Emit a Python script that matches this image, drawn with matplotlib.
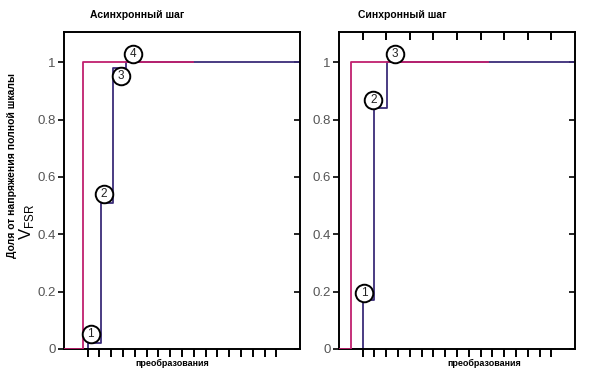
import matplotlib
matplotlib.use("Agg")
import matplotlib.pyplot as plt

plt.rcParams['font.family'] = ['Liberation Sans', 'DejaVu Sans']

# Data
async_dark_x = [0, 2.0, 3.1, 4.15, 5.25, 20]
async_dark_y = [0, 0.02, 0.51, 0.98, 1.0, 1.0]
async_mag_x = [0, 1.6, 10.9]
async_mag_y = [0, 1.0, 1.0]
async_lbl_x = [2.26, 3.39, 4.8, 5.82]
async_lbl_y = [0.051, 0.54, 0.95, 1.03]
async_lbl = ['1', '2', '3', '4']

sync_dark_x = [0, 2.0, 2.97, 4.04, 20]
sync_dark_y = [0, 0.17, 0.84, 1.0, 1.0]
sync_mag_x = [0, 1.0, 12.6]
sync_mag_y = [0, 1.0, 1.0]
sync_lbl_x = [2.12, 2.9, 4.75]
sync_lbl_y = [0.195, 0.867, 1.027]
sync_lbl = ['1', '2', '3']

yticks = [0, 0.2, 0.4, 0.6, 0.8, 1.0]
ytick_labels = ['0', '0.2', '0.4', '0.6', '0.8', '1']
xticks = list(range(2, 19))
top_xticks = list(range(2, 19, 2))

MAG = '#c0206e'
DARK = '#3a2c78'

fig = plt.figure(figsize=(6.0, 3.82), dpi=100)
fig.patch.set_facecolor('white')

ax1 = fig.add_axes([0.1067, 0.0864, 0.3933, 0.8298])
ax2 = fig.add_axes([0.565, 0.0864, 0.3933, 0.8298])


def setup(ax, top_ticks):
    ax.set_xlim(0, 20)
    ax.set_ylim(0, 1.105)
    for s in ax.spines.values():
        s.set_linewidth(1.4)
        s.set_color('black')
    ax.set_yticks(yticks)
    ax.set_yticklabels(ytick_labels)
    ax.tick_params(axis='y', which='both', direction='out', length=4, width=1.2,
                   labelsize=9.5, labelcolor='#555555', pad=2, right=False)
    ax.set_xticks(xticks)
    ax.set_xticklabels([])
    ax.tick_params(axis='x', which='both', direction='out', length=6, width=1.4,
                   top=False)
    ay = ax.secondary_yaxis('right')
    ay.set_yticks(yticks)
    ay.set_yticklabels([])
    ay.tick_params(direction='in', length=4, width=1.2)
    ay.spines['right'].set_visible(False)
    if top_ticks:
        axt = ax.secondary_xaxis('top')
        axt.set_xticks(top_xticks)
        axt.set_xticklabels([])
        axt.tick_params(direction='in', length=6, width=1.4)
        axt.spines['top'].set_visible(False)


def draw(ax, dx, dy, mx, my, lx, ly, lbls):
    ax.step(dx, dy, where='post', color=DARK, lw=1.3, zorder=2, clip_on=True)
    ax.step(mx, my, where='post', color=MAG, lw=1.3, zorder=3, clip_on=True)
    ax.scatter(lx, ly, s=160, facecolor='white', edgecolor='black',
               linewidth=1.4, zorder=4)
    for x, y, t in zip(lx, ly, lbls):
        ax.text(x, y, t, ha='center', va='center', fontsize=8.5, zorder=5,
                color='#222222')


setup(ax1, False)
setup(ax2, True)
draw(ax1, async_dark_x, async_dark_y, async_mag_x, async_mag_y,
     async_lbl_x, async_lbl_y, async_lbl)
draw(ax2, sync_dark_x, sync_dark_y, sync_mag_x, sync_mag_y,
     sync_lbl_x, sync_lbl_y, sync_lbl)

fig.text(137.5 / 600, 1 - 15 / 382, 'Асинхронный шаг', ha='center', va='center',
         fontsize=7.5, fontweight='bold')
fig.text(402.5 / 600, 1 - 15 / 382, 'Синхронный шаг', ha='center', va='center',
         fontsize=7.5, fontweight='bold')
fig.text(172 / 600, 1 - 363 / 382, 'преобразования', ha='center', va='center',
         fontsize=6.5, fontweight='bold')
fig.text(484 / 600, 1 - 363 / 382, 'преобразования', ha='center', va='center',
         fontsize=6.5, fontweight='bold')
fig.text(12 / 600, 1 - 165 / 382, 'Доля от напряжения полной шкалы', rotation=90,
         ha='center', va='center', fontsize=7.5, fontweight='bold')
fig.text(27 / 600, 1 - 222 / 382, r'V$_{\mathregular{FSR}}$', rotation=90,
         ha='center', va='center', fontsize=12)

fig.savefig('out.png', dpi=100, facecolor='white')
